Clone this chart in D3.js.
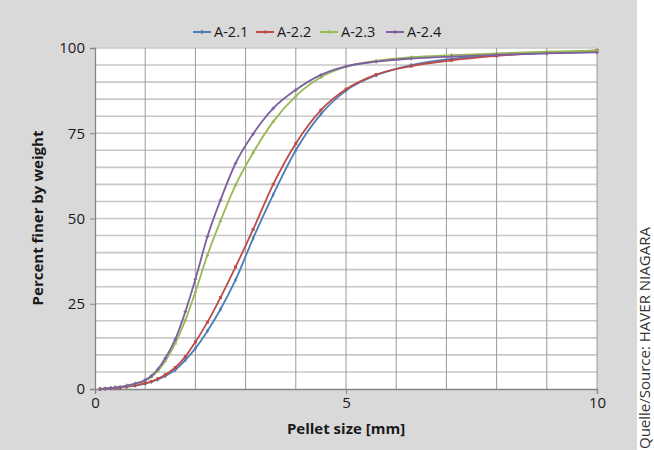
<!DOCTYPE html>
<html>
<head>
<meta charset="utf-8">
<script src="https://cdn.jsdelivr.net/npm/d3@7"></script>
<style>
  body { margin: 0; background: #fff; }
  svg text { font-family: "Open Sans", "Noto Sans", sans-serif; }
</style>
</head>
<body>
<svg id="chart" width="654" height="450"></svg>
<script>
// sieve sizes in mm
const groessen = [0.1, 0.2, 0.315, 0.4, 0.5, 0.63, 0.8, 1.0, 1.12, 1.25, 1.4, 1.6, 1.8, 2.0, 2.24, 2.5, 2.8, 3.15, 3.55, 4.0, 4.5, 5.0, 5.6, 6.3, 7.1, 8.0, 9.0, 10.0];

const serie_a21 = [0, 0.1, 0.2, 0.3, 0.4, 0.6, 1.0, 1.6, 2.1, 2.8, 3.8, 5.6, 8.5, 11.9, 17.0, 23.4, 32.0, 44.2, 57.0, 70.0, 80.6, 87.5, 92.0, 95.0, 96.8, 97.9, 98.5, 98.9];
const serie_a22 = [0, 0.1, 0.2, 0.3, 0.4, 0.7, 1.1, 1.7, 2.2, 3.0, 4.2, 6.3, 9.5, 13.8, 19.6, 26.8, 35.8, 46.8, 60.0, 72.0, 81.8, 87.9, 92.2, 94.7, 96.4, 97.7, 98.6, 99.3];
const serie_a23 = [0, 0.1, 0.3, 0.4, 0.6, 0.9, 1.5, 2.5, 3.5, 5.2, 8.2, 13.4, 20.2, 28.5, 39.3, 49.3, 59.8, 69.3, 78.4, 85.9, 91.4, 94.5, 96.2, 97.3, 97.9, 98.4, 98.9, 99.2];
const serie_a24 = [0, 0.1, 0.3, 0.4, 0.6, 1.0, 1.6, 2.6, 3.8, 5.8, 9.0, 14.6, 22.7, 32.2, 44.7, 55.4, 66.2, 74.8, 82.3, 87.7, 92.1, 94.6, 96.0, 96.9, 97.5, 98.0, 98.4, 98.7];

const namen = ["A-2.1", "A-2.2", "A-2.3", "A-2.4"];
const farben = ["#4a7ebb", "#be4b48", "#98b954", "#7d60a0"];
const x_ticks = [0, 5, 10];
const y_ticks = [0, 25, 50, 75, 100];

const serien = [serie_a21, serie_a22, serie_a23, serie_a24];

const svg = d3.select("#chart");

// grey frame
svg.append("rect").attr("x", 0).attr("y", 0).attr("width", 637).attr("height", 450).attr("fill", "#d9d9d9");

const links = 95, rechts = 597, oben = 48, unten = 389;

const x = d3.scaleLinear().domain([0, 10]).range([links, rechts]);
const y = d3.scaleLinear().domain([0, 100]).range([unten, oben]);

svg.append("rect").attr("x", links).attr("y", oben).attr("width", rechts - links).attr("height", unten - oben).attr("fill", "#fff");

// horizontal grid every 5
svg.append("g")
  .selectAll("line")
  .data(d3.range(5, 101, 5))
  .join("line")
  .attr("x1", links).attr("x2", rechts)
  .attr("y1", d => y(d)).attr("y2", d => y(d))
  .attr("stroke", "#c8c8c8").attr("stroke-width", 1.6);

// vertical grid every 1 mm
svg.append("g")
  .selectAll("line")
  .data(d3.range(1, 11, 1))
  .join("line")
  .attr("x1", d => x(d)).attr("x2", d => x(d))
  .attr("y1", oben).attr("y2", unten)
  .attr("stroke", "#9a9a9a").attr("stroke-width", 1);

// axes
const achse_x = svg.append("g")
  .attr("transform", `translate(0,${unten})`)
  .call(d3.axisBottom(x).tickValues(x_ticks).tickSize(5).tickPadding(3));
const achse_y = svg.append("g")
  .attr("transform", `translate(${links},0)`)
  .call(d3.axisLeft(y).tickValues(y_ticks).tickSize(5).tickPadding(5));

[achse_x, achse_y].forEach(a => {
  a.select(".domain").attr("stroke", "#868686").attr("stroke-width", 1.3);
  a.selectAll(".tick line").attr("stroke", "#868686");
  a.selectAll(".tick text").attr("font-size", 15).attr("fill", "#1a1a1a");
});

// axis titles
svg.append("text")
  .attr("x", 346).attr("y", 434)
  .attr("text-anchor", "middle")
  .attr("font-size", 15).attr("font-weight", "bold").attr("fill", "#1a1a1a")
  .text("Pellet size [mm]");

svg.append("text")
  .attr("transform", "translate(43,218) rotate(-90)")
  .attr("text-anchor", "middle")
  .attr("font-size", 15).attr("font-weight", "bold").attr("fill", "#1a1a1a")
  .text("Percent finer by weight");

// lines
const linie = d3.line()
  .x((d, i) => x(groessen[i]))
  .y(d => y(d))
  .curve(d3.curveMonotoneX);

const marker_form = [d3.symbolDiamond, d3.symbolSquare, d3.symbolTriangle, d3.symbolCross];

serien.forEach((werte, s) => {
  svg.append("path")
    .datum(werte)
    .attr("d", linie)
    .attr("fill", "none")
    .attr("stroke", farben[s])
    .attr("stroke-width", 1.8);

  svg.append("g")
    .selectAll("path")
    .data(werte)
    .join("path")
    .attr("transform", (d, i) => `translate(${x(groessen[i])},${y(d)})`)
    .attr("d", d3.symbol().type(marker_form[s]).size(s == 1 ? 9 : 7))
    .attr("fill", farben[s]);
});

// legend
const legende_pos = [193, 256, 320, 386];
const legende = svg.append("g");
namen.forEach((n, i) => {
  legende.append("line")
    .attr("x1", legende_pos[i]).attr("x2", legende_pos[i] + 18)
    .attr("y1", 32).attr("y2", 32)
    .attr("stroke", farben[i]).attr("stroke-width", 2);
  legende.append("path")
    .attr("transform", `translate(${legende_pos[i] + 9},32)`)
    .attr("d", d3.symbol().type(marker_form[i]).size(8))
    .attr("fill", farben[i]);
  legende.append("text")
    .attr("x", legende_pos[i] + 21).attr("y", 37)
    .attr("font-size", 14.5).attr("fill", "#1a1a1a")
    .text(n);
});

// source
svg.append("text")
  .attr("transform", "translate(650,449) rotate(-90)")
  .attr("font-size", 15).attr("fill", "#333")
  .text("Quelle/Source: HAVER NIAGARA");
</script>
</body>
</html>
